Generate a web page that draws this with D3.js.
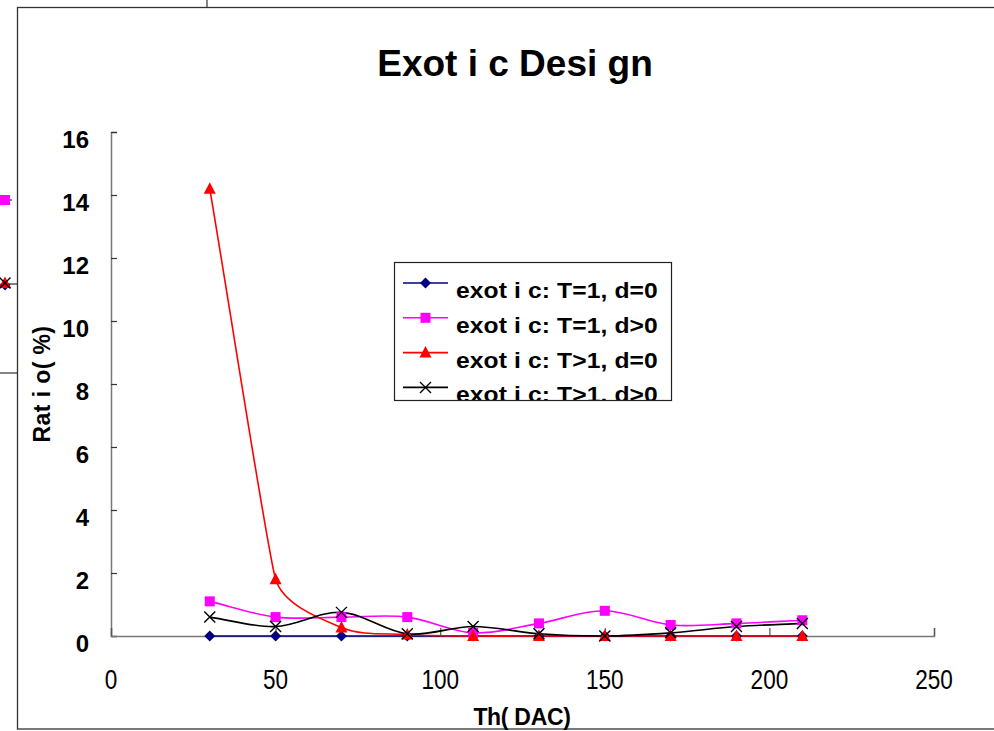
<!DOCTYPE html>
<html>
<head>
<meta charset="utf-8">
<script src="https://cdn.jsdelivr.net/npm/d3@7"></script>
<style>
  html, body { margin: 0; padding: 0; background: #fff; }
  svg { display: block; font-family: Arial, "Liberation Sans", sans-serif; }
</style>
</head>
<body>
<svg id="chart" width="994" height="731"></svg>
<script>
// Threshold values (DAC) and the four exotic-design ratio series (%)
const thresholds = [30, 50, 70, 90, 110, 130, 150, 170, 190, 210];
const t1d0  = [0, 0, 0, 0, 0, 0, 0, 0, 0, 0];
const t1dg  = [1.1, 0.6, 0.6, 0.6, 0.1, 0.4, 0.8, 0.35, 0.4, 0.5];
const tgd0  = [14.2, 1.8, 0.27, 0.05, 0, 0, 0, 0, 0, 0];
const tgdg  = [0.6, 0.3, 0.75, 0.07, 0.3, 0.07, 0, 0.1, 0.3, 0.4];
const seriesNames = ["exot i c: T=1, d=0", "exot i c: T=1, d>0", "exot i c: T>1, d=0", "exot i c: T>1, d>0"];
const seriesColors = ["#000080", "#FF00FF", "#FF0000", "#000000"];
const seriesShapes = ["diamond", "square", "triangle", "cross"];
const xTicks = [0, 50, 100, 150, 200, 250];
const yTicks = [0, 2, 4, 6, 8, 10, 12, 14, 16];

const series = [t1d0, t1dg, tgd0, tgdg].map((vals, i) => ({
  name: seriesNames[i], color: seriesColors[i], shape: seriesShapes[i],
  points: thresholds.map((t, j) => ({ x: t, y: vals[j] }))
}));

const svg = d3.select("#chart");

const x = d3.scaleLinear().domain([0, 250]).range([111, 934]);
const y = d3.scaleLinear().domain([0, 16]).range([636, 132]);

// Smoothed line: cubic Bezier segments whose tangent at each point follows
// its neighbours, with handle length limited by the shorter adjacent segment.
function smoothPath(pts) {
  const p = pts.map(d => [x(d.x), y(d.y)]);
  const n = p.length;
  const len = (a, b) => Math.hypot(b[0] - a[0], b[1] - a[1]);
  const dirs = p.map((pt, i) => {
    const a = p[Math.max(0, i - 1)], b = p[Math.min(n - 1, i + 1)];
    const l = len(a, b) || 1;
    return [(b[0] - a[0]) / l, (b[1] - a[1]) / l];
  });
  const hand = p.map((pt, i) => {
    const lin = i > 0 ? len(p[i - 1], pt) : Infinity;
    const lout = i < n - 1 ? len(pt, p[i + 1]) : Infinity;
    return Math.min(lin, lout) / 3;
  });
  const path = d3.path();
  path.moveTo(p[0][0], p[0][1]);
  for (let i = 0; i < n - 1; i++) {
    const a = p[i], b = p[i + 1];
    const c1 = [a[0] + dirs[i][0] * hand[i], a[1] + dirs[i][1] * hand[i]];
    const c2 = [b[0] - dirs[i + 1][0] * hand[i + 1], b[1] - dirs[i + 1][1] * hand[i + 1]];
    path.bezierCurveTo(c1[0], c1[1], c2[0], c2[1], b[0], b[1]);
  }
  return path.toString();
}

// Marker drawing
function marker(g, shape, color) {
  if (shape === "diamond") {
    g.append("path").attr("d", "M0,-5.5L5.5,0L0,5.5L-5.5,0Z").attr("fill", color);
  } else if (shape === "square") {
    g.append("rect").attr("x", -5).attr("y", -5).attr("width", 10).attr("height", 10).attr("fill", color);
  } else if (shape === "triangle") {
    g.append("path").attr("d", "M0,-6.5L6,5L-6,5Z").attr("fill", color);
  } else {
    g.append("path").attr("d", "M-5.5,-5.5L5.5,5.5M-5.5,5.5L5.5,-5.5")
      .attr("stroke", color).attr("stroke-width", 1.4).attr("fill", "none");
  }
}

// Fragments of the neighbouring chart at the left edge
svg.append("line").attr("x1", 207).attr("x2", 207).attr("y1", 0).attr("y2", 7).attr("stroke", "#333").attr("stroke-width", 1.2);
svg.append("line").attr("x1", 0).attr("x2", 17).attr("y1", 373).attr("y2", 373).attr("stroke", "#333").attr("stroke-width", 1.2);
svg.append("line").attr("x1", 5).attr("x2", 12).attr("y1", 200).attr("y2", 200).attr("stroke", "#000");
svg.append("line").attr("x1", 5).attr("x2", 17).attr("y1", 284).attr("y2", 284).attr("stroke", "#000");
marker(svg.append("g").attr("transform", "translate(5,200)"), "square", "#FF00FF");
marker(svg.append("g").attr("transform", "translate(5,285)"), "diamond", "#000080");
marker(svg.append("g").attr("transform", "translate(5,283)"), "triangle", "#FF0000");
marker(svg.append("g").attr("transform", "translate(5,283)"), "cross", "#000");

// Chart frame
svg.append("rect").attr("x", 17.5).attr("y", 7.5).attr("width", 990).attr("height", 721.5)
  .attr("fill", "none").attr("stroke", "#333").attr("stroke-width", 1.3);

// Title
svg.append("text").attr("x", 515).attr("y", 76).attr("text-anchor", "middle")
  .attr("font-size", 37).attr("font-weight", "bold").attr("fill", "#000")
  .text("Exot i c  Desi gn");

// Axes
const yAxis = d3.axisRight(y).tickValues(yTicks).tickSize(6).tickFormat(() => "");
const yg = svg.append("g").attr("transform", `translate(${x(0)},0)`).call(yAxis);
yg.select(".domain").attr("stroke", "#777").attr("stroke-width", 1.5);
yg.selectAll(".tick line").attr("stroke", "#333").attr("stroke-width", 1.2);

const xAxis = d3.axisTop(x).tickValues(xTicks).tickSize(8).tickFormat(() => "");
const xg = svg.append("g").attr("transform", `translate(0,${y(0)})`).call(xAxis);
xg.select(".domain").attr("stroke", "#777").attr("stroke-width", 1.5);
xg.selectAll(".tick line").attr("stroke", "#555").attr("stroke-width", 1.2);

// Tick labels
svg.append("g").selectAll("text").data(yTicks).join("text")
  .attr("x", 89).attr("y", d => y(d) + 16).attr("text-anchor", "end")
  .attr("font-size", 24).attr("font-weight", "bold").text(d => d);

svg.append("g").selectAll("text").data(xTicks).join("text")
  .attr("transform", d => `translate(${x(d)},689) scale(0.94,1.12)`).attr("text-anchor", "middle")
  .attr("font-size", 24).text(d => d);

// Axis titles
svg.append("text").attr("transform", "translate(50,384) rotate(-90)").attr("text-anchor", "middle")
  .attr("font-size", 23).attr("font-weight", "bold").attr("letter-spacing", 0.4).text("Rat i o( %)");
svg.append("text").attr("x", 522).attr("y", 725).attr("text-anchor", "middle")
  .attr("font-size", 23).attr("font-weight", "bold").attr("letter-spacing", -0.3).text("Th( DAC)");

// Series lines and markers
series.forEach(s => {
  svg.append("path").attr("d", smoothPath(s.points))
    .attr("fill", "none").attr("stroke", s.color).attr("stroke-width", 1.6);
});
series.forEach(s => {
  s.points.forEach(p => {
    marker(svg.append("g").attr("transform", `translate(${x(p.x)},${y(p.y)})`), s.shape, s.color);
  });
});

// Legend
const lx = 394, ly = 262, lw = 277, lh = 138;
svg.append("clipPath").attr("id", "legclip").append("rect").attr("x", lx).attr("y", ly).attr("width", lw).attr("height", lh);
const leg = svg.append("g");
leg.append("rect").attr("x", lx + 0.5).attr("y", ly + 0.5).attr("width", lw).attr("height", lh)
  .attr("fill", "#fff").attr("stroke", "#222").attr("stroke-width", 1.2);
const legItems = leg.append("g").attr("clip-path", "url(#legclip)");
series.forEach((s, i) => {
  const cy = 283 + i * 34.8;
  legItems.append("line").attr("x1", 403).attr("x2", 448).attr("y1", cy).attr("y2", cy)
    .attr("stroke", s.color).attr("stroke-width", 1.6);
  marker(legItems.append("g").attr("transform", `translate(425.5,${cy})`), s.shape, s.color);
  legItems.append("text").attr("transform", `translate(456,${cy + 15}) scale(1.12,1)`)
    .attr("font-size", 22).attr("font-weight", "bold").attr("letter-spacing", 0.1).text(s.name);
});
</script>
</body>
</html>
